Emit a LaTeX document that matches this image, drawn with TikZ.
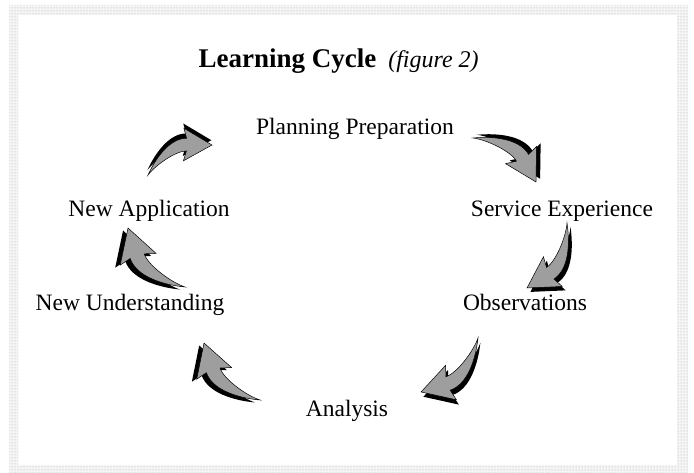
\documentclass[tikz,border=0pt]{standalone}
\usepackage{fontspec}
\setmainfont{Liberation Serif}
\usetikzlibrary{calc,patterns}

\tikzset{
  stage/.style={anchor=base, font=\fontsize{23.5}{26}\selectfont},
  heading/.style={anchor=base west, font=\fontsize{27}{30}\selectfont},
  horn/.pic={
    \begin{scope}[shift={(2,6.5)}]
    \fill[black] (0,0) .. controls (20,17) and (50,34) .. (71.5,23.9) -- (74.1,38.3) -- (100,0)
      -- (53.9,-3.1) -- (63.7,7.7) .. controls (50.2,14.3) and (15,8) .. cycle;
    \end{scope}
    \filldraw[fill=black!38, draw=black, line width=0.5pt] (0,0) .. controls (20,17) and (50,34) .. (71.5,23.9) -- (74.1,38.3) -- (100,0)
      -- (53.9,-3.1) -- (63.7,7.7) .. controls (50.2,14.3) and (15,8) .. cycle;
  }
}

% block arrow from tail #1 to tip #2
\newcommand\cyclearrow[2]{%
  \path let \p1=($(#2)-(#1)$), \n1={veclen(\x1,\y1)}, \n2={atan2(\y1,\x1)} in
    (#1) pic[rotate=\n2, scale=\n1/100] {horn};
}

\begin{document}
\begin{tikzpicture}[x=1pt,y=1pt]
\useasboundingbox (0,0) rectangle (694,473);

% speckled frame
\fill[gray!8, even odd rule] (9,0) rectangle (688,468) (18,8) rectangle (677,458);
\fill[pattern=dots, pattern color=gray!70, even odd rule] (9,0) rectangle (688,468) (18,8) rectangle (677,458);

\node[heading] (title) at (195,405) {\textbf{Learning Cycle}\hspace{12pt}{\fontsize{24}{26}\selectfont\itshape (figure 2)}};

\node[stage] (plan) at (355,338) {Planning Preparation};
\node[stage] (serv) at (562,256) {Service Experience};
\node[stage] (obs) at (525,162) {Observations};
\node[stage] (ana) at (347,56) {Analysis};
\node[stage] (und) at (130,162) {New Understanding};
\node[stage] (app) at (149,256) {New Application};

% arrow ends
\coordinate (t1) at (148,298); \coordinate (h1) at (212,328);
\coordinate (t2) at (473,335); \coordinate (h2) at (536,291);
\coordinate (t3) at (567,250); \coordinate (h3) at (527,185);
\coordinate (t4) at (478,135); \coordinate (h4) at (421,81);
\coordinate (t5) at (185,186); \coordinate (h5) at (128,245);
\coordinate (t6) at (260,73);  \coordinate (h6) at (204,130);

\foreach \i in {1,...,6} {\cyclearrow{t\i}{h\i}}
\end{tikzpicture}
\end{document}
